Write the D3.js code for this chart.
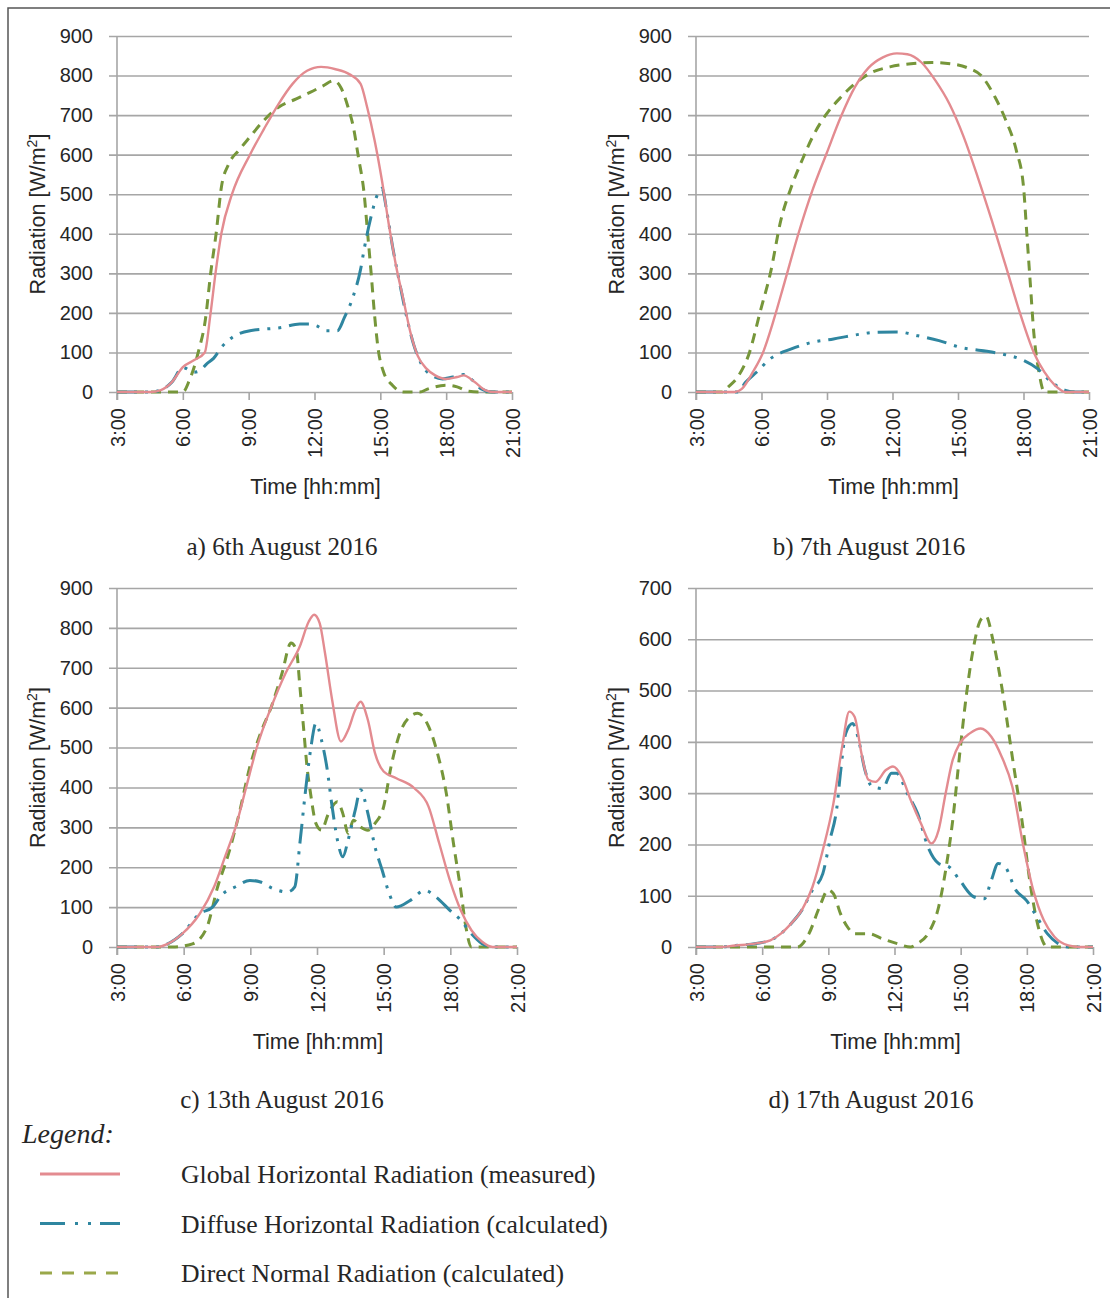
<!DOCTYPE html>
<html>
<head>
<meta charset="utf-8">
<script src="https://cdn.jsdelivr.net/npm/d3@7"></script>
<style>
  body { margin: 0; background: #fff; }
  .axis text { font-family: "Liberation Sans", Arial, sans-serif; font-size: 20px; fill: #262626; }
  .axis path { display: none; }
  .axis line { stroke: #a6a6a6; stroke-width: 1.6px; }
  .title { font-family: "Liberation Sans", Arial, sans-serif; font-size: 21.5px; fill: #262626; }
  .caption { font-family: "Liberation Serif", "Times New Roman", serif; font-size: 25px; fill: #262626; }
</style>
</head>
<body>
<div id="chart"></div>
<script>
; (function () {
    // time of day in hours, values in W/m2
    const timeTicks = [3, 6, 9, 12, 15, 18, 21]

    const aug06Global = [[3, 0], [4.5, 0], [5, 5], [5.5, 25], [6, 63], [6.5, 80], [7, 100], [7.25, 193], [7.5, 305], [7.76, 402], [8.24, 500], [9.06, 600], [9.7, 665], [10.36, 728], [11, 779], [11.66, 812], [12.3, 822], [12.96, 816], [13.6, 803], [14.1, 779], [14.4, 720], [14.74, 636], [15.07, 536], [15.4, 419], [15.72, 318], [16.05, 234], [16.37, 151], [16.7, 92], [17.1, 59], [17.5, 42], [18, 33], [18.5, 38], [18.8, 42], [19.3, 25], [19.8, 4], [20.1, 0], [21, 0]]
    const aug06Diffuse = [[3, 0], [4.5, 0], [5, 5], [5.5, 25], [6, 62], [6.5, 50], [6.75, 53], [7.1, 72], [7.4, 85], [7.76, 113], [8.25, 138], [9.06, 155], [10.5, 163], [11.33, 172], [11.8, 172], [12.1, 167], [12.55, 155], [13.04, 155], [13.36, 188], [13.77, 243], [14.1, 310], [14.26, 360], [14.58, 444], [14.83, 494], [15.07, 515], [15.3, 455], [15.55, 370], [15.9, 270], [16.2, 190], [16.53, 118], [16.86, 72], [17.34, 42], [17.83, 33], [18.3, 38], [18.8, 44], [19.13, 33], [19.6, 8], [20.1, 0], [21, 0]]
    const aug06Direct = [[3, 0], [6, 0], [6.3, 30], [6.5, 60], [6.7, 100], [7.03, 184], [7.27, 301], [7.52, 402], [7.76, 519], [8.08, 575], [8.57, 612], [9.06, 645], [9.7, 687], [10.36, 720], [11.17, 741], [11.82, 758], [12.39, 774], [12.88, 787], [13.2, 770], [13.53, 720], [13.77, 670], [14, 594], [14.26, 502], [14.42, 402], [14.58, 301], [14.74, 193], [14.9, 109], [15.15, 50], [15.55, 17], [16.04, 0], [16.8, 0], [17.18, 8], [18, 17], [18.5, 13], [19, 2], [19.5, 0], [21, 0]]

    const aug07Global = [[3, 0], [4.78, 0], [5.1, 8], [5.6, 50], [6.07, 100], [6.57, 184], [7.05, 276], [7.7, 402], [8.34, 511], [8.98, 603], [9.63, 695], [10.27, 770], [10.91, 820], [11.56, 846], [12.2, 856], [12.68, 854], [13.33, 833], [13.97, 787], [14.61, 728], [15.26, 645], [15.9, 544], [16.54, 435], [17.19, 318], [17.83, 201], [18.47, 100], [18.96, 50], [19.44, 17], [19.92, 0], [21, 0]]
    const aug07Diffuse = [[3, 0], [4.9, 0], [5.28, 25], [5.77, 50], [6.4, 84], [7.37, 109], [8.34, 126], [9.3, 134], [10.27, 144], [11.24, 151], [12.2, 152], [13.17, 142], [14.13, 130], [15.1, 113], [16.06, 105], [17.03, 96], [17.83, 84], [18.64, 59], [19.28, 25], [19.92, 4], [20.4, 0], [21, 0]]
    const aug07Direct = [[3, 0], [4.2, 0], [4.48, 13], [4.96, 42], [5.45, 100], [5.93, 201], [6.41, 301], [6.89, 435], [7.37, 519], [7.86, 586], [8.34, 645], [8.98, 703], [9.63, 745], [10.27, 779], [10.91, 804], [11.88, 822], [12.84, 830], [13.81, 833], [14.77, 829], [15.42, 820], [16.06, 800], [16.7, 745], [17.19, 687], [17.67, 611], [18, 519], [18.15, 402], [18.31, 276], [18.47, 151], [18.71, 50], [18.96, 0], [21, 0]]

    const aug13Global = [[3, 0], [4.8, 0], [5.28, 8], [5.93, 33], [6.73, 84], [7.37, 151], [7.86, 226], [8.34, 301], [8.82, 402], [9.3, 502], [9.95, 603], [10.59, 687], [11.23, 754], [11.63, 816], [11.87, 833], [12.12, 812], [12.36, 737], [12.68, 620], [13.08, 515], [13.4, 544], [13.72, 594], [13.96, 615], [14.29, 569], [14.61, 486], [15, 440], [15.57, 423], [16.38, 398], [17.02, 352], [17.5, 260], [17.98, 167], [18.47, 92], [18.95, 42], [19.43, 13], [19.9, 0], [21, 0]]
    const aug13Diffuse = [[3, 0], [4.8, 0], [5.28, 8], [5.93, 33], [6.73, 84], [7.3, 100], [7.7, 130], [8.34, 151], [8.98, 167], [9.46, 163], [10, 147], [10.67, 138], [11, 151], [11.23, 260], [11.47, 385], [11.71, 494], [11.95, 561], [12.2, 519], [12.44, 452], [12.68, 352], [12.92, 268], [13.16, 226], [13.4, 268], [13.72, 343], [13.96, 394], [14.29, 335], [14.61, 251], [14.93, 193], [15.25, 134], [15.57, 100], [16.2, 117], [16.86, 142], [17.34, 126], [17.98, 92], [18.47, 67], [18.95, 33], [19.43, 8], [19.9, 0], [21, 0]]
    const aug13Direct = [[3, 0], [5.5, 0], [6.4, 8], [7.05, 50], [7.53, 151], [8.02, 234], [8.5, 335], [8.98, 452], [9.46, 536], [9.95, 603], [10.43, 687], [10.83, 762], [11.07, 745], [11.23, 653], [11.39, 553], [11.55, 452], [11.71, 385], [11.95, 310], [12.2, 293], [12.52, 335], [12.92, 364], [13.16, 335], [13.4, 285], [13.64, 318], [13.96, 301], [14.29, 293], [14.61, 310], [15, 352], [15.33, 452], [15.73, 536], [16.2, 578], [16.53, 586], [17.02, 553], [17.42, 486], [17.82, 385], [18.14, 260], [18.47, 142], [18.7, 50], [18.95, 0], [21, 0]]

    const aug17Global = [[3, 0], [4, 0], [4.78, 3], [5.73, 7], [6.37, 13], [6.85, 26], [7.32, 46], [7.8, 72], [8.28, 117], [8.75, 189], [9.23, 280], [9.63, 391], [9.95, 459], [10.19, 449], [10.5, 378], [10.82, 326], [11.14, 322], [11.61, 345], [11.93, 352], [12.33, 332], [12.73, 287], [13.2, 241], [13.68, 202], [14, 228], [14.32, 300], [14.64, 365], [14.96, 397], [15.43, 417], [15.91, 426], [16.39, 410], [16.86, 371], [17.34, 313], [17.82, 202], [18.29, 111], [18.77, 52], [19.25, 20], [19.88, 3], [20.36, 0], [21, 0]]
    const aug17Diffuse = [[3, 0], [4, 0], [4.78, 3], [5.73, 7], [6.37, 13], [6.85, 26], [7.32, 46], [7.8, 72], [8.28, 111], [8.75, 143], [9.07, 208], [9.39, 273], [9.55, 339], [9.79, 417], [10.1, 436], [10.34, 410], [10.66, 345], [10.98, 313], [11.46, 309], [11.86, 339], [12.09, 339], [12.57, 300], [13.05, 260], [13.52, 195], [14, 163], [14.48, 156], [14.96, 130], [15.59, 98], [16.07, 94], [16.39, 130], [16.7, 163], [17.02, 156], [17.5, 111], [17.98, 91], [18.45, 59], [18.93, 26], [19.41, 7], [19.9, 0], [21, 0]]
    const aug17Direct = [[3, 0], [7.6, 0], [8.12, 26], [8.6, 78], [8.99, 111], [9.23, 104], [9.55, 65], [9.87, 39], [10.19, 26], [10.82, 26], [11.46, 16], [12.09, 7], [12.73, 0], [13.05, 7], [13.52, 26], [14, 78], [14.32, 150], [14.64, 247], [14.96, 378], [15.27, 495], [15.59, 586], [15.91, 638], [16.15, 645], [16.46, 599], [16.86, 508], [17.34, 371], [17.82, 234], [18.13, 130], [18.45, 52], [18.77, 7], [18.93, 0], [21, 0]]

    const captions = ["a) 6th August 2016", "b) 7th August 2016", "c) 13th August 2016", "d) 17th August 2016"]
    const yMaxes = [900, 900, 900, 700]
    const seriesNames = [
        "Global Horizontal Radiation (measured)",
        "Diffuse Horizontal Radiation (calculated)",
        "Direct Normal Radiation (calculated)"
    ]

    const colors = { global: "#e38b90", diffuse: "#2f86a0", direct: "#76963a" }

    const svg = d3.select("#chart")
        .append("svg")
        .attr("width", 1110)
        .attr("height", 1298)

    // frame round the figure (runs off the right and bottom edge)
    svg.append("rect")
        .attr("x", 8).attr("y", 8)
        .attr("width", 1200).attr("height", 1400)
        .attr("fill", "none")
        .attr("stroke", "#555")
        .attr("stroke-width", 1.5)

    const panels = [
        { left: 117, right: 512, top: 36, bottom: 392, capX: 282, capY: 555, series: [aug06Global, aug06Diffuse, aug06Direct] },
        { left: 696, right: 1089, top: 36, bottom: 392, capX: 869, capY: 555, series: [aug07Global, aug07Diffuse, aug07Direct] },
        { left: 117, right: 517, top: 588, bottom: 947, capX: 282, capY: 1108, series: [aug13Global, aug13Diffuse, aug13Direct] },
        { left: 696, right: 1093, top: 588, bottom: 947, capX: 871, capY: 1108, series: [aug17Global, aug17Diffuse, aug17Direct] }
    ]

    const styles = [
        { color: colors.global, dash: null, width: 2.4 },
        { color: colors.diffuse, dash: "20,8,3,8,3,8", width: 3 },
        { color: colors.direct, dash: "10,7", width: 3 }
    ]

    panels.forEach(function (p, i) {
        const w = p.right - p.left
        const x = d3.scaleLinear().domain([3, 21]).range([p.left, p.right])
        const y = d3.scaleLinear().domain([0, yMaxes[i]]).range([p.bottom, p.top])

        const g = svg.append("g")

        // gridlines + y labels
        const yAxis = d3.axisLeft(y)
            .tickValues(d3.range(0, yMaxes[i] + 1, 100))
            .tickSizeInner(-w)
            .tickPadding(24)
        const yg = g.append("g")
            .attr("class", "axis y-axis")
            .attr("transform", "translate(" + p.left + ",0)")
            .call(yAxis)
        yg.selectAll("line").attr("x1", -8).attr("x2", w)

        // vertical axis line
        g.append("line")
            .attr("x1", p.left).attr("x2", p.left)
            .attr("y1", p.top).attr("y2", p.bottom + 8)
            .attr("stroke", "#a6a6a6")
            .attr("stroke-width", 1.6)

        const xAxis = d3.axisBottom(x)
            .tickValues(timeTicks)
            .tickFormat(d => d + ":00")
            .tickSize(8)
        const xg = g.append("g")
            .attr("class", "axis x-axis")
            .attr("transform", "translate(0," + p.bottom + ")")
            .call(xAxis)
        xg.selectAll("text")
            .attr("transform", "rotate(-90)")
            .attr("text-anchor", "end")
            .attr("x", -16)
            .attr("y", 0)
            .attr("dy", "0.35em")

        g.append("text")
            .attr("class", "title")
            .attr("x", (p.left + p.right) / 2 + 1)
            .attr("y", p.bottom + 102)
            .attr("text-anchor", "middle")
            .text("Time [hh:mm]")

        const yt = g.append("text")
            .attr("class", "title")
            .attr("transform", "translate(" + (p.left - 72) + "," + ((p.top + p.bottom) / 2) + ") rotate(-90)")
            .attr("text-anchor", "middle")
        yt.append("tspan").text("Radiation [W/m")
        yt.append("tspan").text("2").attr("font-size", "14px").attr("dy", "-8")
        yt.append("tspan").text("]").attr("dy", "8")

        // lines, drawn direct first so global sits on top like the original
        const line = d3.line()
            .x(d => x(d[0]))
            .y(d => y(d[1]))
            .curve(d3.curveMonotoneX)

        ;[2, 1, 0].forEach(function (k) {
            g.append("path")
                .datum(p.series[k])
                .attr("fill", "none")
                .attr("stroke", styles[k].color)
                .attr("stroke-width", styles[k].width)
                .attr("stroke-dasharray", styles[k].dash)
                .attr("d", line)
        })

        svg.append("text")
            .attr("class", "caption")
            .attr("x", p.capX)
            .attr("y", p.capY)
            .attr("text-anchor", "middle")
            .text(captions[i])
    })

    // legend
    svg.append("text")
        .attr("class", "caption")
        .attr("x", 22)
        .attr("y", 1143)
        .style("font-style", "italic")
        .style("font-size", "28px")
        .text("Legend:")

    const legendDash = [null, "25,10,3,10,3,9", "12,10"]
    const legendColor = [colors.global, colors.diffuse, "#9aa84a"]
    seriesNames.forEach(function (name, k) {
        const ly = 1174 + k * 49.5
        svg.append("line")
            .attr("x1", 40).attr("x2", 120)
            .attr("y1", ly).attr("y2", ly)
            .attr("stroke", legendColor[k])
            .attr("stroke-width", 3)
            .attr("stroke-dasharray", legendDash[k])
        svg.append("text")
            .attr("class", "caption")
            .attr("x", 181)
            .attr("y", ly + 9)
            .style("font-size", "25.7px")
            .text(name)
    })
})()
</script>
</body>
</html>
